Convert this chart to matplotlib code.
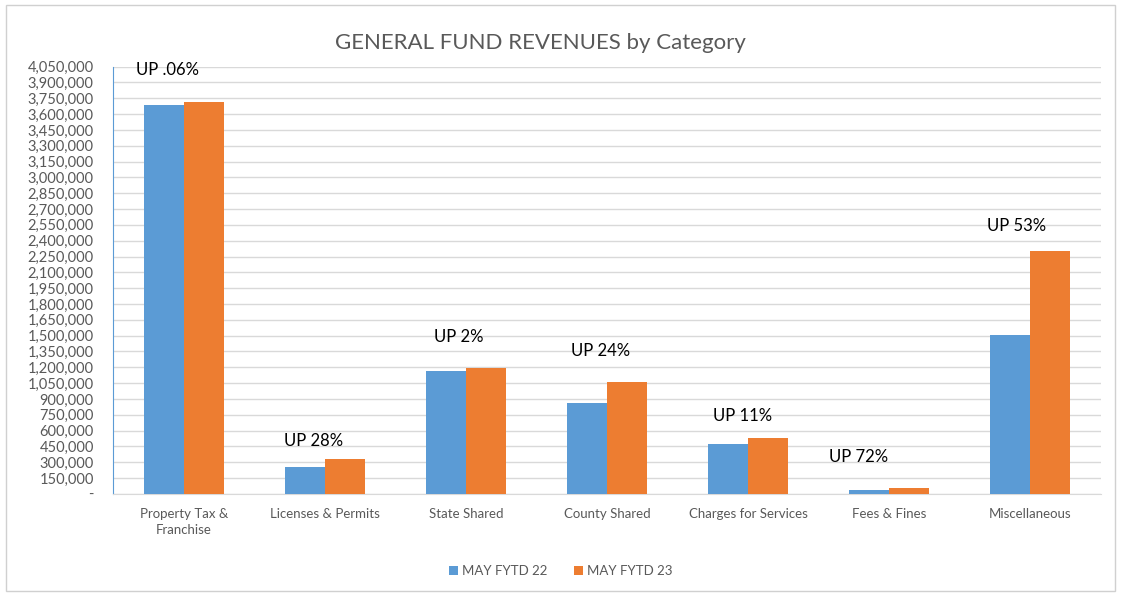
import numpy as np
import matplotlib.pyplot as plt
from matplotlib.patches import Rectangle
from matplotlib.ticker import FuncFormatter, MultipleLocator

plt.rcParams['font.family'] = ['Lato', 'DejaVu Sans']

# data
categories = ["Property Tax &\nFranchise", "Licenses & Permits", "State Shared",
              "County Shared", "Charges for Services", "Fees & Fines", "Miscellaneous"]
fytd22 = [3685000, 258000, 1168000, 862000, 476000, 32000, 1510000]
fytd23 = [3713000, 332000, 1195000, 1065000, 528000, 55000, 2303000]
change_labels = ["UP .06%", "UP 28%", "UP 2%", "UP 24%", "UP 11%", "UP 72%", "UP 53%"]

blue = "#5B9BD5"
orange = "#ED7D31"
grey_txt = "#595959"

fig = plt.figure(figsize=(11.21, 5.95), dpi=100)
fig.patches.append(Rectangle((0.005, 0.007), 0.99, 0.985, transform=fig.transFigure,
                             fill=False, edgecolor="#d0d0d0", linewidth=1))
ax = fig.add_axes([0.101, 0.17, 0.881, 0.718])

x = np.arange(len(categories))
w = 0.285
ax.bar(x - w/2, fytd22, w, color=blue, label="MAY FYTD 22", zorder=3)
ax.bar(x + w/2, fytd23, w, color=orange, label="MAY FYTD 23", zorder=3)

# "UP x%" labels above each pair (offsets in pixels)
dx = [-16, -11, -7, -6, -6, -31, -14]
dy = [24, 10, 23, 23, 14, 23, 17]
for i, lab in enumerate(change_labels):
    top = max(fytd22[i], fytd23[i])
    ax.annotate(lab, (x[i], top), xytext=(dx[i], dy[i]), textcoords="offset pixels",
                ha="center", va="bottom", fontsize=12, color="black")

ax.set_xlim(-0.5, len(categories) - 0.5)
ax.set_ylim(0, 4050000)
ax.yaxis.set_major_locator(MultipleLocator(150000))
ax.yaxis.set_major_formatter(FuncFormatter(lambda v, p: "-" if v == 0 else f"{v:,.0f}"))
ax.grid(axis="y", color="#d9d9d9", linewidth=1, zorder=0)
ax.set_xticks(x)
ax.set_xticklabels(categories, linespacing=1.45)
ax.tick_params(axis="both", length=0, colors=grey_txt)
ax.tick_params(axis="x", pad=10, labelsize=9.5)
ax.tick_params(axis="y", pad=14, labelsize=10.5)

for s in ["top", "right"]:
    ax.spines[s].set_visible(False)
ax.spines["left"].set_color(blue)
ax.spines["bottom"].set_color("#d9d9d9")

fig.text(0.482, 0.928, "GENERAL FUND REVENUES by Category", ha="center", va="center",
         fontsize=16, color=grey_txt)

leg = fig.legend(loc="center", bbox_to_anchor=(0.5, 0.04), ncol=2, frameon=False,
                 fontsize=9.5, handlelength=0.7, handleheight=0.7, columnspacing=2,
                 handletextpad=0.3)
for t in leg.get_texts():
    t.set_color(grey_txt)

fig.savefig("out.png", dpi=100)
